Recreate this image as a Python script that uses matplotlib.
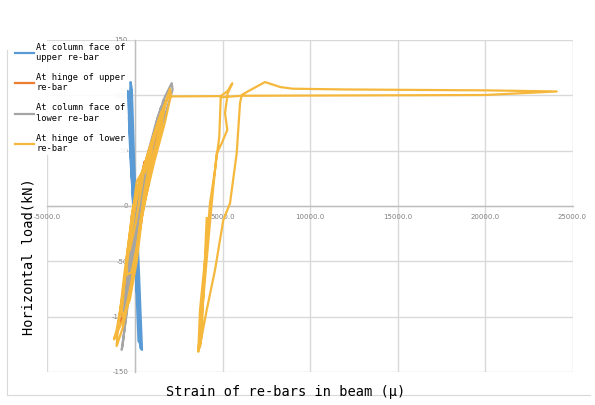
import matplotlib
matplotlib.use("Agg")
import matplotlib.pyplot as plt
from matplotlib.lines import Line2D

# strain (micro) / horizontal load (kN) pairs for each gauge
upper_face_strain = [0, -150, -250, -180, -50, 50, 150, 80, -50, -250, -350, -250, -80, 30, 200, 100,
                     -50, -250, -400, -420, -300, -100, 80, 300, 330, 200, 20, -150, -320, -250, -180,
                     -50, 150, 350, 400, 300, 120, -60]
upper_face_load = [0, 20, 50, 45, 10, -20, -50, -45, -10, 40, 80, 78, 30, -20, -80, -78,
                   -20, 50, 100, 104, 98, 40, -30, -110, -125, -122, -50, 30, 90, 112, 105,
                   40, -30, -110, -130, -128, -70, 0]

upper_hinge_strain = [0, 250, 550, 450, 150, -150, -350, -200, 100, 600, 1100, 1500, 1300, 600, 0,
                      -500, -800, -700, -200, 400, 1100, 1700, 1700, 1000, 300]
upper_hinge_load = [0, 20, 40, 30, 5, -25, -50, -40, 0, 40, 65, 85, 75, 35, -20,
                    -70, -105, -100, -40, 20, 65, 95, 90, 50, 5]

lower_face_strain = [0, 400, 800, 650, 200, -200, -500, -400, 0, 600, 1200, 1500, 1350, 700, 100, -400,
                     -700, -600, -200, 300, 1143, 1600, 2000, 2100, 2150, 1900, 1300, 500, 0,
                     -500, -760, -700, -450, 0, 700, 1300, 1700]
lower_face_load = [0, 25, 50, 40, 0, -40, -60, -55, -10, 40, 75, 90, 80, 40, -15, -60,
                   -100, -95, -50, 0, 62, 95, 108, 111, 105, 92, 60, 5, -40,
                   -100, -130, -125, -90, -30, 40, 80, 95]

lower_hinge_strain = [0, 300, 600, 500, 250, 50, -300, -350, -100, 100, 700, 1000, 950, 500, 200,
                      -200, -450, -500, -150, 300, 900, 1500, 1650, 1500, 900, 400, 100, -300, -700,
                      -750, -550, -150, 95, 380, 571, 900, 1500, 1900, 2000, 2050, 1700, 1100, 500,
                      100, -300, -700, -1050, -1000, -850, -600, -300, -100, 400, 1000, 1600, 2000,
                      1850, 1400, 800, 300, -100, -600, -1200, -1050, -700, -350, 100, 700, 1300, 1900,
                      4900, 5300, 5560, 5297, 5143, 5274, 4954, 4668, 4383, 4200, 3950, 3750, 3617,
                      3714, 3903, 4097, 4286, 4571, 4817, 4900, 6100, 10000, 20000, 24100,
                      20000, 12000, 9000, 8300, 7430, 6500, 6097, 6000, 5811, 5428, 5046, 4571, 4097,
                      3811, 3700, 3811, 4097]
lower_hinge_load = [0, 20, 40, 30, 5, -15, -40, -35, -10, 10, 45, 60, 50, 10, -30,
                    -60, -62, -50, -5, 25, 55, 85, 87, 70, 30, -10, -50, -85, -100,
                    -95, -60, -10, 22, 30, 30, 50, 82, 100, 106, 100, 75, 40, 0,
                    -40, -80, -110, -126.6, -115, -95, -60, -25, 0, 30, 60, 88, 104,
                    99, 70, 30, -15, -60, -100, -120.5, -112, -80, -40, 10, 45, 75, 99,
                    99.3, 104, 110.9, 101.9, 84, 68.7, 56.7, 47.6, 2.4, -30, -75, -110, -131.7,
                    -94, -63.9, -33.7, 2.4, 32.5, 62.6, 98.3, 99.6, 99.8, 100.3, 103.5,
                    104.5, 105.3, 106, 107.5, 112, 104, 100.3, 92.8, 47.6, 2.4, -12.7, -57.9, -94,
                    -118, -128, -115, -11]

series = [
    ("At column face of\nupper re-bar", upper_face_strain, upper_face_load, "#5b9bd5"),
    ("At hinge of upper\nre-bar", upper_hinge_strain, upper_hinge_load, "#ed7d31"),
    ("At column face of\nlower re-bar", lower_face_strain, lower_face_load, "#a5a5a5"),
    ("At hinge of lower\nre-bar", lower_hinge_strain, lower_hinge_load, "#f5b83c"),
]

x_ticks = [-5000, 0, 5000, 10000, 15000, 20000, 25000]
y_ticks = [-150, -100, -50, 0, 50, 100, 150]

fig = plt.figure(figsize=(5.95, 4.05), dpi=100)
ax = fig.add_axes([47.5 / 595, 33 / 405, 525 / 595, 332 / 405])

for label, xs, ys, color in series:
    ax.plot(xs, ys, color=color, lw=1.6, label=label, zorder=3)

ax.set_xlim(-5000, 25000)
ax.set_ylim(-150, 150)
ax.set_xticks(x_ticks)
ax.set_yticks(y_ticks)
ax.set_xticklabels([f"{v:.1f}" for v in x_ticks])
ax.set_yticklabels([str(v) for v in y_ticks])
ax.grid(True, color="#d9d9d9", lw=1.0, zorder=0)
ax.set_axisbelow(True)

# axes cross at the origin
for side in ["top", "right"]:
    ax.spines[side].set_visible(False)
ax.spines["left"].set_position(("data", 0))
ax.spines["bottom"].set_position(("data", 0))
for side in ["left", "bottom"]:
    ax.spines[side].set_color("#bfbfbf")
    ax.spines[side].set_linewidth(1.0)
ax.tick_params(length=0, labelsize=5, labelcolor="#808080")
ax.tick_params(axis="y", pad=5)
ax.tick_params(axis="x", pad=6)

leg = ax.legend(loc="upper left", bbox_to_anchor=(13 / 595, 1 - 41 / 405),
                bbox_transform=fig.transFigure, prop={"family": "DejaVu Sans Mono", "size": 6.3},
                frameon=True, fancybox=False, handlelength=2.2, handletextpad=0.25,
                labelspacing=1.25, borderpad=0.2, borderaxespad=0)
leg.get_frame().set_facecolor("white")
leg.get_frame().set_edgecolor("none")
leg.get_frame().set_alpha(0.92)

fig.text(28 / 595, 1 - 257 / 405, "Horizontal load(kN)", rotation=90, ha="center", va="center",
         fontsize=9.8, family="DejaVu Sans Mono", color="black")
fig.text(286 / 595, 1 - 392 / 405, "Strain of re-bars in beam (μ)", ha="center", va="center",
         fontsize=9.8, family="DejaVu Sans Mono", color="black")

# chart area border
fig.add_artist(Line2D([6.5 / 595, 6.5 / 595], [1 - 50 / 405, 1 - 395 / 405], color="#d9d9d9", lw=0.8))
fig.add_artist(Line2D([6.5 / 595, 590 / 595], [1 - 395 / 405, 1 - 395 / 405], color="#d9d9d9", lw=0.8))

fig.savefig("out.png", dpi=100)
